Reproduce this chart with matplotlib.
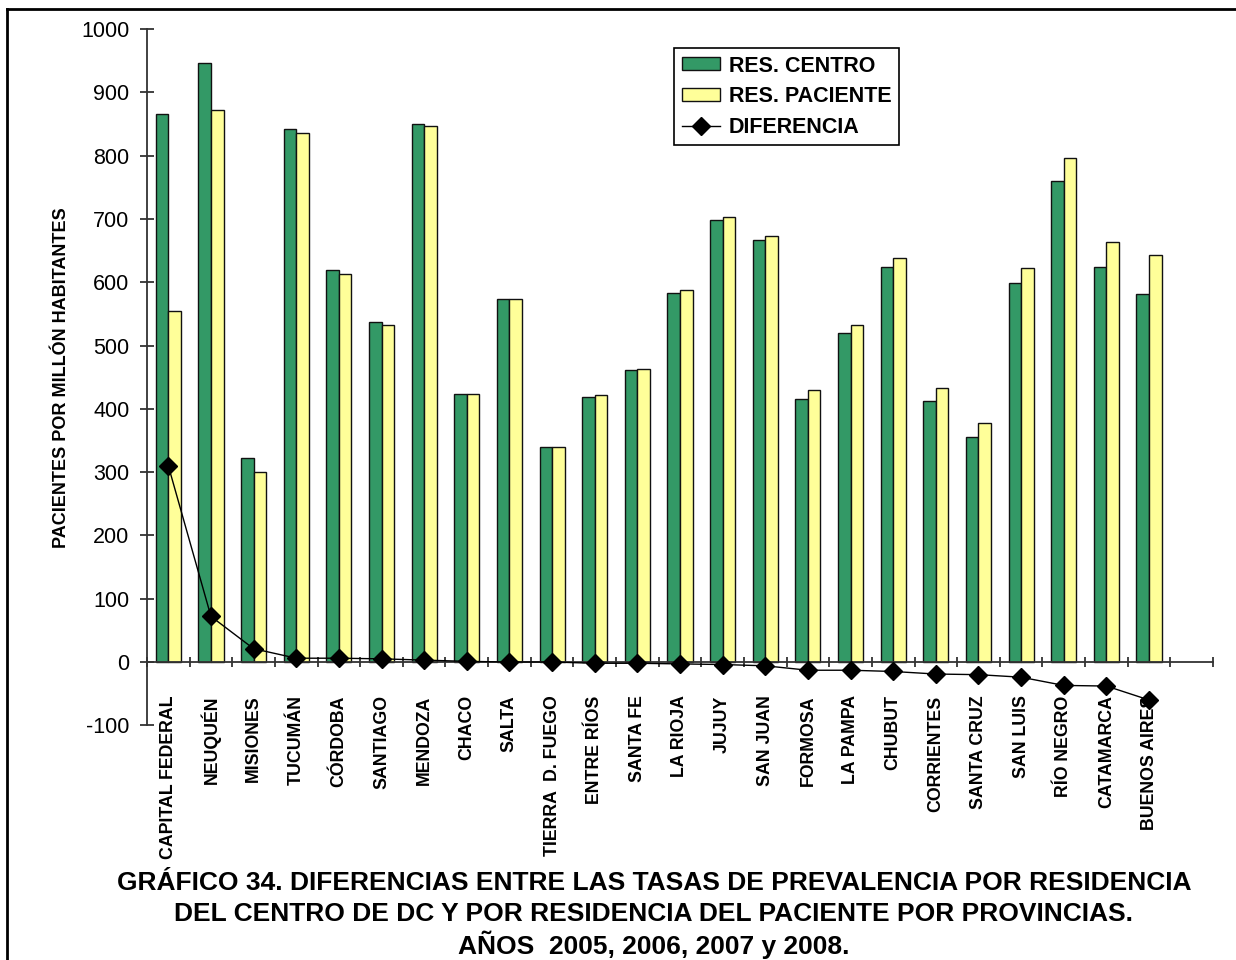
from matplotlib import pyplot as plt
from matplotlib.lines import Line2D
import numpy as np

plt.rc('font', family='Liberation Sans')
plt.rc('axes', unicode_minus=False)

provincias = ['CAPITAL FEDERAL', 'NEUQUÉN', 'MISIONES', 'TUCUMÁN', 'CÓRDOBA',
              'SANTIAGO', 'MENDOZA', 'CHACO', 'SALTA', 'TIERRA  D. FUEGO',
              'ENTRE RÍOS', 'SANTA FE', 'LA RIOJA', 'JUJUY', 'SAN JUAN',
              'FORMOSA', 'LA PAMPA', 'CHUBUT', 'CORRIENTES', 'SANTA CRUZ',
              'SAN LUIS', 'RÍO NEGRO', 'CATAMARCA', 'BUENOS AIRES']
res_centro = [865, 946, 322, 842, 619, 537, 850, 423, 574, 340, 419, 461,
              583, 699, 667, 415, 519, 624, 413, 355, 598, 760, 624, 581]
res_paciente = [555, 872, 300, 835, 613, 533, 846, 423, 574, 340, 422, 463,
                587, 703, 673, 429, 532, 638, 433, 377, 622, 796, 663, 643]
diferencia = [310, 72, 21, 6, 6, 5, 3, 1, 0, 0, -2, -2,
              -3, -4, -6, -13, -13, -15, -19, -20, -24, -37, -38, -60]

verde = '#339966'
amarillo = '#ffff99'

fig = plt.figure(figsize=(12.36, 9.6), dpi=100)
ax = fig.add_axes([147/1236, 1-725.3/960, (1213-147)/1236, (725.3-29)/960])

x = np.arange(len(provincias))
w = 0.295
b1 = ax.bar(x - w/2, res_centro, w, color=verde, edgecolor='#111', linewidth=1,
            label='RES. CENTRO', zorder=2)
b2 = ax.bar(x + w/2, res_paciente, w, color=amarillo, edgecolor='#111', linewidth=1,
            label='RES. PACIENTE', zorder=2)
l1, = ax.plot(x, diferencia, color='black', linewidth=1, marker='D', markersize=9,
              label='DIFERENCIA', zorder=3)

ax.set_xlim(-0.5, 24.5)
ax.set_ylim(-100, 1000)

for s in ['top', 'right']:
    ax.spines[s].set_visible(False)
ax.spines['bottom'].set_position(('data', 0))
for s in ['bottom', 'left']:
    ax.spines[s].set_linewidth(1.3)
    ax.spines[s].set_color('#333')

ax.tick_params(axis='y', direction='inout', length=9.4, width=1.3, color='#333',
               labelsize=15.5, pad=8)
ax.tick_params(axis='x', which='major', length=0, pad=24)
ax.tick_params(axis='x', which='minor', direction='inout', length=7, width=1.3,
               color='#333')

ax.set_yticks(np.arange(-100, 1001, 100))
ax.set_xticks(np.arange(-0.5, 25, 1), minor=True)
ax.set_xticks(x)
ax.set_xticklabels(provincias, rotation=90, fontweight='bold', fontsize=12.8,
                   va='top', ha='center')

ax.set_ylabel('PACIENTES POR MILLÓN HABITANTES', fontsize=13, fontweight='bold',
              labelpad=8)

leg = ax.legend([b1, b2, l1], ['RES. CENTRO', 'RES. PACIENTE', 'DIFERENCIA'],
                loc='upper left', bbox_to_anchor=(674/1236, 1-48/960),
                bbox_transform=fig.transFigure, borderaxespad=0,
                fancybox=False, edgecolor='black', framealpha=1,
                prop={'size': 15.5, 'weight': 'bold'}, labelspacing=0.45,
                handlelength=1.8, handleheight=0.55, handletextpad=0.4,
                borderpad=0.35)
leg.get_frame().set_linewidth(1.2)

titulo = ['GRÁFICO 34. DIFERENCIAS ENTRE LAS TASAS DE PREVALENCIA POR RESIDENCIA',
          'DEL CENTRO DE DC Y POR RESIDENCIA DEL PACIENTE POR PROVINCIAS.',
          'AÑOS  2005, 2006, 2007 y 2008.']
for i, linea in enumerate(titulo):
    fig.text(654/1236, 1-(883 + 31*i)/960, linea, ha='center', va='center',
             fontsize=19, fontweight='bold')

# marco exterior
fig.add_artist(Line2D([7/1236, 7/1236], [0, 1-9/960], color='black', linewidth=2,
                      transform=fig.transFigure))
fig.add_artist(Line2D([7/1236, 1], [1-9/960, 1-9/960], color='black', linewidth=2,
                      transform=fig.transFigure))

fig.savefig('out.png', dpi=100)
